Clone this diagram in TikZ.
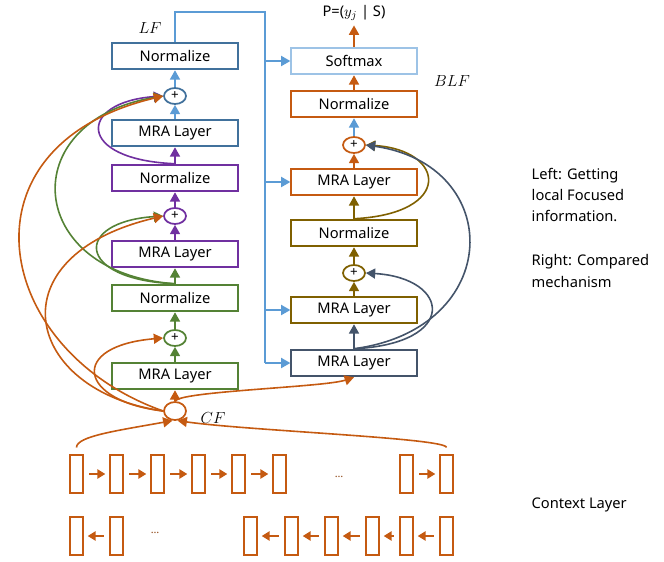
\documentclass[tikz,border=0pt]{standalone}
\usepackage{fontspec}
\setmainfont{Noto Sans}
\usetikzlibrary{positioning}
\usetikzlibrary{shapes}
\usetikzlibrary{arrows.meta}

\definecolor{lfblue}{HTML}{41719C}
\definecolor{lineblue}{HTML}{5B9BD5}
\definecolor{softblue}{HTML}{9DC3E6}
\definecolor{cforange}{HTML}{C55A11}
\definecolor{mrapurple}{HTML}{7030A0}
\definecolor{mragreen}{HTML}{548235}
\definecolor{blfolive}{HTML}{7F6000}
\definecolor{slate}{HTML}{44546A}

\begin{document}
\begin{tikzpicture}[x=0.75pt,y=0.75pt,font=\fontsize{11}{13}\selectfont,
             block/.style={draw, line width=1.4pt, minimum width=94pt,
                minimum height=20pt, inner sep=0pt},
             plus/.style={draw, ellipse, line width=1.3pt, minimum width=16.5pt,
                minimum height=12pt, inner sep=0pt, font=\fontsize{10}{10}\selectfont},
             token/.style={draw=cforange, line width=1.3pt, minimum width=9.5pt,
                minimum height=28.5pt, inner sep=0pt},
             connections/.style={-{Triangle[length=7pt,width=7.5pt]}, line width=1.3pt},
             residual/.style={-{Triangle[length=7pt,width=7.5pt]}, line width=1.2pt},
             seqArrow/.style={-{Triangle[length=6pt,width=7pt]}, line width=1.3pt,
                draw=cforange, shorten <=4pt, shorten >=3pt},
             mathLabel/.style={font=\fontsize{13}{13}\selectfont},
          ]
          \useasboundingbox (0,0) rectangle (664,-561);

          % left stack
          \node at (175,-56) (lfnorm) [block, draw=lfblue] {Normalize};
          \node at (175,-96) (plusB) [plus, draw=lfblue] {+};
          \node at (175,-133) (mraB) [block, draw=lfblue] {MRA Layer};
          \node at (175,-178) (normP) [block, draw=mrapurple] {Normalize};
          \node at (175,-216) (plusP) [plus, draw=mrapurple] {+};
          \node at (175,-254) (mraP) [block, draw=mrapurple] {MRA Layer};
          \node at (175,-298) (normG) [block, draw=mragreen] {Normalize};
          \node at (175,-338) (plusG) [plus, draw=mragreen] {+};
          \node at (175,-376) (mraG) [block, draw=mragreen] {MRA Layer};
          \node at (175,-411) (cf) [plus, draw=cforange, minimum width=16.5pt, minimum height=13.5pt] {};

          % right stack
          \node at (354,-13) (prob) {P=(\(y_j\) | S)};
          \node at (354,-61) (soft) [block, draw=softblue] {Softmax};
          \node at (354,-104) (normO) [block, draw=cforange] {Normalize};
          \node at (354,-145) (plusO) [plus, draw=cforange] {+};
          \node at (354,-182) (mraO) [block, draw=cforange] {MRA Layer};
          \node at (354,-233) (normY) [block, draw=blfolive] {Normalize};
          \node at (354,-273) (plusY) [plus, draw=blfolive] {+};
          \node at (354,-310) (mraY) [block, draw=blfolive] {MRA Layer};
          \node at (354,-363) (mraS) [block, draw=slate] {MRA Layer};

          \node at (150,-28) (lfLabel) [mathLabel] {\(LF\)};
          \node at (452,-81) (blfLabel) [mathLabel] {\(BLF\)};
          \node at (213,-418) (cfLabel) [mathLabel] {\(CF\)};

          \node at (527,-195) (note) [anchor=west, align=left, font=\fontsize{11}{16}\selectfont]
              {Left: Getting\\local Focused\\information.};
          \node at (527,-271) (note2) [anchor=west, align=left, font=\fontsize{11}{16}\selectfont]
              {Right: Compared\\mechanism};
          \node at (527,-505) (ctx) [anchor=west] {Context Layer};

          % context layer tokens
          \foreach \x [count=\i] in {76.5,116.5,157.5,198.5,238.5,279.5,406.5,446.5}
              \node at (\x,-474) (f\i) [token] {};
          \foreach \x [count=\i] in {76.5,116.5,250.5,291.5,331.5,372.5,406.5,446.5}
              \node at (\x,-536) (b\i) [token] {};
          \foreach \a/\b in {1/2,2/3,3/4,4/5,5/6,7/8}
              \draw[seqArrow] (f\a) -- (f\b);
          \foreach \a/\b in {2/1,4/3,5/4,6/5,7/6,8/7}
              \draw[seqArrow] (b\a) -- (b\b);
          \node at (339,-477) (dotsF) [text=cforange!70!black, font=\fontsize{8}{8}\selectfont] {\ldots};
          \node at (155,-533) (dotsB) [text=cforange!70!black, font=\fontsize{8}{8}\selectfont] {\ldots};

          \draw[residual, cforange, shorten <=5pt] (f1.north) .. controls +(0,18) and +(-55,-10) .. (cf.-105);
          \draw[residual, cforange, shorten <=5pt] (f8.north) .. controls +(0,16) and +(70,-10) .. (cf.-75);

          % blue trunk from LF
          \coordinate (trunkTop) at (265,-12);
          \coordinate (trunkBot) at (265,-363);
          \draw[lineblue, line width=1.5pt] (lfnorm.north) |- (trunkTop) -- (trunkBot);
          \draw[connections, lineblue, line width=1.5pt] (trunkTop |- soft.west) -- (soft.west);
          \draw[connections, lineblue, line width=1.5pt] (trunkTop |- mraO.west) -- (mraO.west);
          \draw[connections, lineblue, line width=1.5pt] (trunkTop |- mraY.west) -- (mraY.west);
          \draw[connections, lineblue, line width=1.5pt] (trunkBot) -- (mraS.west);

          % vertical flow, left
          \draw[connections, lineblue] (plusB.north) -- (lfnorm.south);
          \draw[connections, lineblue] (mraB.north) -- (plusB.south);
          \draw[connections, mrapurple] (normP.north) -- (mraB.south);
          \draw[connections, mrapurple] (plusP.north) -- (normP.south);
          \draw[connections, mrapurple] (mraP.north) -- (plusP.south);
          \draw[connections, mragreen] (normG.north) -- (mraP.south);
          \draw[connections, mragreen] (plusG.north) -- (normG.south);
          \draw[connections, mragreen] (mraG.north) -- (plusG.south);
          \draw[connections, cforange] (cf.north) -- (mraG.south);

          % vertical flow, right
          \draw[connections, cforange] (soft.north) -- (prob.south);
          \draw[connections, cforange] (normO.north) -- (soft.south);
          \draw[connections, lineblue] (plusO.north) -- (normO.south);
          \draw[connections, cforange] (mraO.north) -- (plusO.south);
          \draw[connections, blfolive] (normY.north) -- (mraO.south);
          \draw[connections, blfolive] (plusY.north) -- (normY.south);
          \draw[connections, blfolive] (mraY.north) -- (plusY.south);
          \draw[connections, slate] (mraS.north) -- (mraY.south);

          % residual links, left
          \draw[residual, mrapurple] (normP.north) .. controls +(-100,4) and +(-85,-6) .. (plusB.west);
          \draw[residual, mragreen] (normG.north) .. controls +(-100,4) and +(-90,-6) .. (plusP.west);
          \draw[residual, mragreen] (normG.north) .. controls +(-150,10) and +(-150,-25) .. (plusB.west);
          \draw[residual, cforange] (cf.west) .. controls +(-85,10) and +(-95,-8) .. (plusG.west);
          \draw[residual, cforange] (cf.west) .. controls +(-140,20) and +(-170,-40) .. (plusP.west);
          \draw[residual, cforange] (cf.west) .. controls +(-170,60) and +(-210,-50) .. (plusB.west);
          \draw[residual, cforange] (cf.north) .. controls +(5,10) and +(-30,-10) .. (mraS.south);

          % residual links, right
          \draw[residual, blfolive] (normY.north) .. controls +(100,5) and +(80,-5) .. (plusO.east);
          \draw[residual, slate] (mraS.north) .. controls +(105,5) and +(85,-5) .. (plusY.east);
          \draw[residual, slate] (mraS.north) .. controls +(150,20) and +(140,-20) .. (plusO.east);
       \end{tikzpicture}
\end{document}
